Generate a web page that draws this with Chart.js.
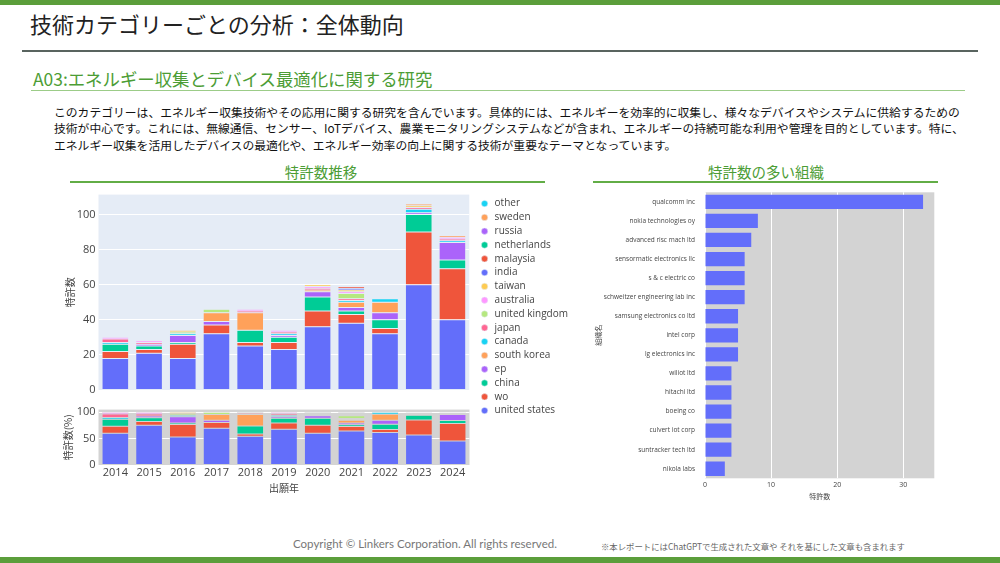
<!DOCTYPE html>
<html><head><meta charset="utf-8">
<script src="https://cdn.jsdelivr.net/npm/chart.js@4.4.1/dist/chart.umd.min.js"></script>
<style>
body{margin:0;background:#fff;}
#page{position:relative;width:1000px;height:563px;overflow:hidden;font-family:'Noto Sans CJK JP',sans-serif;background:#fff;}
.abs{position:absolute;white-space:nowrap;}
canvas{position:absolute;}
</style></head><body><div id="page">
<div class="abs" style="left:0;top:0;width:1000px;height:5px;background:#5b9e3b"></div>
<div class="abs" style="left:30px;top:11px;font-size:22px;line-height:24px;color:#222">技術カテゴリーごとの分析：全体動向</div>
<div class="abs" style="left:22px;top:49.5px;width:956px;height:2.5px;background:#59645f"></div>
<div class="abs" style="left:33px;top:69px;font-size:17.4px;line-height:20px;color:#4c9d35">A03:エネルギー収集とデバイス最適化に関する研究</div>
<div class="abs" style="left:31px;top:90px;width:934px;height:1px;background:#9ccc88"></div>
<div class="abs" style="left:54px;top:104px;font-size:11.8px;line-height:16px;color:#111">このカテゴリーは、エネルギー収集技術やその応用に関する研究を含んでいます。具体的には、エネルギーを効率的に収集し、様々なデバイスやシステムに供給するための</div>
<div class="abs" style="left:54px;top:120px;font-size:11.8px;line-height:16px;color:#111">技術が中心です。これには、無線通信、センサー、IoTデバイス、農業モニタリングシステムなどが含まれ、エネルギーの持続可能な利用や管理を目的としています。特に、</div>
<div class="abs" style="left:54px;top:137px;font-size:11.8px;line-height:16px;color:#111">エネルギー収集を活用したデバイスの最適化や、エネルギー効率の向上に関する技術が重要なテーマとなっています。</div>
<div class="abs" style="left:221px;width:200px;top:163px;font-size:14.5px;line-height:18px;color:#4c9d35;text-align:center">特許数推移</div>
<div class="abs" style="left:70px;top:181px;width:475px;height:2px;background:#62ad46"></div>
<div class="abs" style="left:666px;width:200px;top:163px;font-size:14.5px;line-height:18px;color:#4c9d35;text-align:center">特許数の多い組織</div>
<div class="abs" style="left:593px;top:181px;width:345px;height:2px;background:#62ad46"></div>
<canvas id="cLow" width="420" height="100" style="left:60px;top:400px"></canvas>
<canvas id="cMain" width="520" height="235" style="left:60px;top:185px"></canvas>
<canvas id="cOrg" width="350" height="320" style="left:590px;top:185px"></canvas>
<div class="abs" style="left:293px;top:536px;font-family:Lato,'Liberation Sans',sans-serif;font-size:11.5px;line-height:16px;color:#777">Copyright © Linkers Corporation. All rights reserved.</div>
<div class="abs" style="left:601px;top:541px;font-size:8.4px;line-height:10px;color:#666">※本レポートにはChatGPTで生成された文章や それを基にした文章も含まれます</div>
<div class="abs" style="left:0;top:557px;width:1000px;height:6px;background:#5b9e3b"></div>
</div>
<script>
// ---- data ----
const years = ['2014','2015','2016','2017','2018','2019','2020','2021','2022','2023','2024'];
const seriesNames = ['united states','wo','china','ep','south korea','canada','japan','united kingdom','australia','taiwan','india','malaysia','netherlands','russia','sweden','other'];
const unitedStates = [18,21,18,32,25,23,36,38,32,60,40];
const wo           = [ 4, 2, 8, 5, 2, 4, 9, 5, 3,30,29];
const china        = [ 4, 2, 1, 0, 7, 3, 8, 2, 5,10, 5];
const ep           = [ 0, 1, 4, 2, 0, 1, 3, 2, 4, 1,10];
const southKorea   = [ 0, 0, 0, 5,10, 0, 1, 3, 6, 0, 0];
const canada       = [ 1, 0, 1, 0, 0, 1, 0, 1, 2, 2, 1];
const japan        = [ 2, 1, 0, 0, 1, 1, 1, 1, 0, 1, 1];
const unitedKingdom= [ 0, 0, 1, 2, 0, 0, 0, 3, 0, 0, 0];
const australia    = [ 1, 1, 0, 0, 1, 1, 1, 1, 0, 0, 1];
const taiwan       = [ 0, 0, 1, 0, 0, 0, 1, 1, 0, 1, 0];
const india        = [ 0, 0, 0, 0, 0, 0, 0, 1, 0, 0, 0];
const malaysia     = [ 0, 0, 0, 0, 0, 0, 0, 1, 0, 0, 0];
const netherlands  = [ 0, 0, 0, 0, 0, 0, 0, 0, 0, 0, 0];
const russia       = [ 0, 0, 0, 0, 0, 0, 0, 0, 0, 0, 0];
const sweden       = [ 0, 0, 0, 0, 0, 0, 0, 0, 0, 1, 1];
const other        = [ 0, 0, 0, 0, 0, 0, 0, 0, 0, 0, 0];
const seriesValues = [unitedStates,wo,china,ep,southKorea,canada,japan,unitedKingdom,australia,taiwan,india,malaysia,netherlands,russia,sweden,other];

const orgNames = ['qualcomm inc','nokia technologies oy','advanced risc mach ltd','sensormatic electronics llc','s & c electric co','schweitzer engineering lab inc','samsung electronics co ltd','intel corp','lg electronics inc','wiliot ltd','hitachi ltd','boeing co','culvert iot corp','suntracker tech ltd','nikola labs'];
const orgCounts = [33,8,7,6,6,6,5,5,5,4,4,4,4,4,3];

const mainTicks = [0,20,40,60,80,100];
const pctTicks = [0,50,100];
const orgTicks = [0,10,20,30];

// ---- styling ----
const palette = ['#636efa','#EF553B','#00cc96','#ab63fa','#FFA15A','#19d3f3','#FF6692','#B6E880','#FF97FF','#FECB52'];
Chart.defaults.font.family = "'Open Sans','Noto Sans CJK JP',sans-serif";
Chart.defaults.animation = false;
Chart.defaults.plugins.tooltip.enabled = false;

const bgPlugin = {
  id:'bg',
  beforeDraw(chart, args, opts){
    const a = chart.chartArea; const c = chart.ctx;
    c.save(); c.fillStyle = opts.color; c.fillRect(a.left, a.top, a.right-a.left, a.bottom-a.top); c.restore();
  }
};
Chart.register(bgPlugin);

const totals = years.map((_,i)=>seriesValues.reduce((s,arr)=>s+arr[i],0));

function setTicks(list){
  return function(s){ s.ticks = list.map(v=>({value:v})); };
}

const LEGEND_GAP = 6.5;
const legendShift = {
  id:'legendShift',
  afterLayout(chart){
    const lg = chart.legend; if(!lg) return;
    lg.left += LEGEND_GAP; lg.right += LEGEND_GAP; lg.top += 1.5; lg.bottom += 1.5;
  }
};

function makeMain(width){
  const cv = document.getElementById('cMain');
  cv.width = width; cv.style.width = width+'px'; cv.style.height='235px';
  return new Chart(cv, {
    type:'bar',
    data:{labels:years, datasets: seriesNames.map((n,k)=>({
      label:n, data:seriesValues[k], backgroundColor:palette[k%10],
      borderColor:'#E5ECF6', borderWidth:0.5, borderSkipped:false,
      barPercentage:0.79, categoryPercentage:1, stack:'s'}))},
    plugins:[legendShift],
    options:{
      responsive:false, devicePixelRatio:1,
      layout:{padding:{top:8.3,left:0,right:LEGEND_GAP,bottom:0}},
      plugins:{
        bg:{color:'#E5ECF6'},
        legend:{position:'right', align:'start', reverse:true,
          labels:{usePointStyle:true, pointStyle:'circle', boxWidth:10, boxHeight:4.5, padding:3.8,
            font:{size:10}, color:'#444'}}
      },
      scales:{
        x:{stacked:true, display:true, grid:{display:false, drawTicks:false}, border:{display:false}, ticks:{display:false},
           afterFit(s){s.height=30;}},
        y:{stacked:true, min:0, max:111.3, ticks:{font:{size:11}, color:'#444', padding:3, autoSkip:false},
           afterBuildTicks:setTicks(mainTicks),
           grid:{color:'#ffffff', lineWidth:1, drawTicks:false}, border:{display:false},
           title:{display:true, text:'特許数', font:{size:10, family:'Noto Sans CJK JP'}, color:'#444', padding:{top:4,bottom:0}},
           afterFit(s){s.width=38.5;}}
      }
    }
  });
}
let main = makeMain(520);
const d = 409.5 - main.chartArea.right;
if (Math.abs(d) > 0.3){ const w = 520 + d; main.destroy(); main = makeMain(Math.round(w*2)/2); }

new Chart(document.getElementById('cLow'), {
  type:'bar',
  data:{labels:years, datasets: seriesNames.map((n,k)=>({
    label:n, data:seriesValues[k].map((v,i)=>v/totals[i]*100), backgroundColor:palette[k%10],
    borderColor:'#d3d3d3', borderWidth:0.5, borderSkipped:false,
    barPercentage:0.79, categoryPercentage:1, stack:'p'}))},
  options:{
    responsive:false, devicePixelRatio:1,
    layout:{padding:{top:6.7,left:0,right:10.5,bottom:0}},
    plugins:{bg:{color:'#d3d3d3'}, legend:{display:false}},
    scales:{
      x:{stacked:true, grid:{display:false, drawTicks:false}, border:{display:false}, ticks:{font:{size:11}, color:'#444', padding:1, autoSkip:false, maxRotation:0},
         title:{display:true, text:'出願年', font:{size:10, family:'Noto Sans CJK JP'}, color:'#444', padding:{top:0,bottom:6}},
         afterFit(s){s.height=35;}},
      y:{stacked:true, min:0, max:104.8, ticks:{font:{size:11}, color:'#444', padding:3, autoSkip:false},
         afterBuildTicks:setTicks(pctTicks),
         grid:{color:'#ffffff', lineWidth:1, drawTicks:false}, border:{display:false},
         title:{display:true, text:'特許数(%)', font:{size:10, family:'Noto Sans CJK JP'}, color:'#444', padding:{top:2,bottom:0}},
         afterFit(s){s.width=38.5;}}
    }
  }
});

new Chart(document.getElementById('cOrg'), {
  type:'bar',
  data:{labels:orgNames, datasets:[{label:'特許数', data:orgCounts, backgroundColor:'#636efa',
    barPercentage:0.75, categoryPercentage:1}]},
  options:{
    indexAxis:'y', responsive:false, devicePixelRatio:1,
    layout:{padding:{top:7.3,left:0,right:5.7,bottom:0}},
    plugins:{bg:{color:'#d3d3d3'}, legend:{display:false}},
    scales:{
      x:{min:0, max:34.7, ticks:{font:{size:7}, color:'#444', padding:2, autoSkip:false},
         afterBuildTicks:setTicks(orgTicks),
         grid:{color:'#ffffff', lineWidth:1, drawTicks:false}, border:{display:false},
         title:{display:true, text:'特許数', font:{size:7, family:'Noto Sans CJK JP'}, color:'#444', padding:{top:0,bottom:4}},
         afterFit(s){s.height=26.7;}},
      y:{grid:{display:false}, border:{display:false},
         ticks:{autoSkip:false, font:{size:6.5}, color:'#444', padding:2},
         title:{display:true, text:'組織名', font:{size:7, family:'Noto Sans CJK JP'}, color:'#444', padding:{top:4,bottom:0}},
         afterFit(s){s.width=115;}}
    }
  }
});
</script>
</body></html>
